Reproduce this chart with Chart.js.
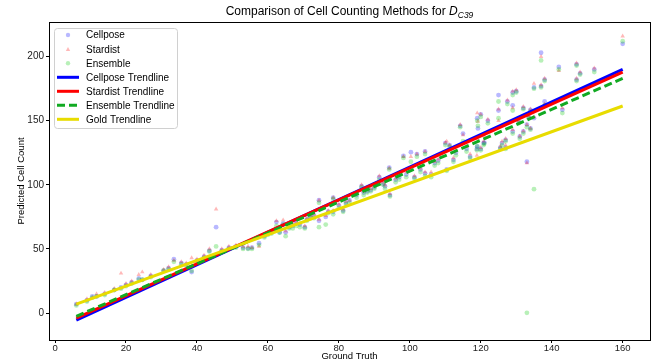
<!DOCTYPE html>
<html>
<head>
<meta charset="utf-8">
<script src="https://cdn.jsdelivr.net/npm/chart.js@4.4.1/dist/chart.umd.min.js"></script>
<style>
html,body{margin:0;padding:0;background:#fff;}
#wrap{width:655px;height:360px;position:relative;}
</style>
</head>
<body>
<div id="wrap"><canvas id="c" width="655" height="360"></canvas></div>
<script>
// ---- data ----
const groundTruth = [6,9,10.5,11.7,14,16.7,18.6,20,21.6,23.6,24.6,27,30.6,32,33.5,35.6,37,38.5,40,42,
 43.5,45.4,47,49,51,53,54.4,55.5,57.5,59,60,61,62.4,63.3,64.3,65,66,67,68,69,
 70.4,71,72,73,74.4,74.4,76.3,77,78.4,78.4,80,81.2,82,83,85,86.4,87,88,89,90,
 91.4,92.5,93,94.2,94.4,96,97,98.2,99,100.3,101.3,102,103,104.3,104.3,106,107,108,110,110.4,
 111.2,112.3,113,114.2,115,116,117,118.9,119,119.2,119,120,120,120.8,121,122,125,125,125.5,126,
 127,127.5,127,129,129,129,130,130.7,131,132,132,133,133,133.5,134,134,135,135,137,137,
 138,138,142,143,147,147,148,152,160];
const cellposeCounts = [7,10,13,13,15,18,20,22,24,27,26,29,33,35,42,39,38,32,41,44,
 48.7,67,49,51,52,51,50.5,51,54.5,60,62,63,71,63,70,63,67,68,70,69,
 67,73,75,76,88,72,75,79,90,79,84,80,86,88,92,99,94,95,96,98,
 106,101,99,113.5,92,104,106,122.6,108,125.5,106,124,112,126,109,108,117,119,132.6,112,
 131,119.5,125,146,140,128,122,128,152,144,130,155,128,132.6,133,150,170,158,129,132.6,
 135,165,129,172,162,141.6,173,149.5,137.7,160,141.6,118,147,153,158.5,144,152,176,203,177,
 182,165,192,158.5,194,182,187,190,210];
const stardistCounts = [7,11,12,15,16,19,31,23,25,30,32,30,34,36,41,40,39,43,42,45,
 50,81,50,52,53,52,52,51,52,61,63,64,72,65,72.6,64,68,70,71,70,
 68,74,76,77,88,73,76,80,90,80,85,81,87,88,93,100,95,96,97,99,
 107,102,100,113,93,105,108,122,110,122,107,124,113,126,110,110,118,120,133,134,
 131,121,127,147,139,130,124,123,156,149.5,136,155,129,134,138,151,159,150,130,134,
 136,166,131,173,160,143,174,150,138,161,142,117,147,154,159,144,153,179,200,178,
 183,163,189,160,195,183,188,191,216];
const ensembleCounts = [6,9,12,13,14,18,19,21,23,26,26,28,33,34,40,38,37,33,40,43,
 48,52,48,50,51,50,50,50,53,59,61,62,68,62.7,69,60,66,66,68,67,
 66,72,74,74,86,67,69,78,89,77,82,79,85,86,90,98,92,94,95,97,
 104,100,97,112,91,102,104,121,106,118,105,122,110,124,107,106,115,117,131,111,
 130,118,123,145,134,126,121,127,150,146,130,153,127,131,132,148,165,152,128,131,
 134,163,128,170,158,140,172,148,136,159,140,0.2,145,152,157,143,96.6,175,197,176,
 181,162,190,156,193,181,186,188,212];
// trendline end points [x at start, x at end] and fitted y values
const trendX = [6, 160];
const cellposeTrend = [-5.5, 190];
const stardistTrend = [-4, 188];
const ensembleTrend = [-2.5, 183];
const goldTrend = [7, 161.5];
const xTicks = [0,20,40,60,80,100,120,140,160];
const yTicks = [0,50,100,150,200];
const seriesNames = ['Cellpose','Stardist','Ensemble','Cellpose Trendline','Stardist Trendline','Ensemble Trendline','Gold Trendline'];

const toPts = (ys) => groundTruth.map((g,i)=>({x:g,y:ys[i]}));
const toLine = (ys) => trendX.map((g,i)=>({x:g,y:ys[i]}));

const FONT = '"Liberation Sans", Arial, sans-serif';
const C_BLUE_PT = 'rgba(0,0,255,0.28)';
const C_RED_PT = 'rgba(255,0,0,0.28)';
const C_GREEN_PT = 'rgba(0,200,0,0.28)';
const C_BLUE = '#0000ff', C_RED = '#ff0000', C_GREEN = '#11aa22', C_GOLD = '#e8dc00';

const datasets = [
  {type:'scatter', label:seriesNames[0], data:toPts(cellposeCounts), backgroundColor:C_BLUE_PT, borderWidth:0, pointRadius:2.4, pointStyle:'circle', order:6},
  {type:'scatter', label:seriesNames[1], data:toPts(stardistCounts), backgroundColor:C_RED_PT, borderWidth:0, pointRadius:2.6, pointStyle:'triangle', order:5},
  {type:'scatter', label:seriesNames[2], data:toPts(ensembleCounts), backgroundColor:C_GREEN_PT, borderWidth:0, pointRadius:2.4, pointStyle:'circle', order:4},
  {type:'line', label:seriesNames[3], data:toLine(cellposeTrend), borderColor:C_BLUE, borderWidth:3, pointRadius:0, fill:false, order:3},
  {type:'line', label:seriesNames[4], data:toLine(stardistTrend), borderColor:C_RED, borderWidth:3, pointRadius:0, fill:false, order:2},
  {type:'line', label:seriesNames[5], data:toLine(ensembleTrend), borderColor:C_GREEN, borderWidth:3, borderDash:[8,4], pointRadius:0, fill:false, order:1},
  {type:'line', label:seriesNames[6], data:toLine(goldTrend), borderColor:C_GOLD, borderWidth:3, pointRadius:0, fill:false, order:0}
];

const decor = {
  id:'decor',
  afterDraw(chart){
    const ctx = chart.ctx, a = chart.chartArea;
    ctx.save();
    // frame
    ctx.strokeStyle = '#000'; ctx.lineWidth = 1;
    ctx.strokeRect(Math.round(a.left)+0.5, Math.round(a.top)+0.5, Math.round(a.right-a.left), Math.round(a.bottom-a.top));
    // title
    ctx.fillStyle = '#000';
    ctx.textBaseline = 'alphabetic';
    const t1 = 'Comparison of Cell Counting Methods for ';
    ctx.font = '12px ' + FONT;
    const w1 = ctx.measureText(t1).width;
    ctx.font = 'italic 12px ' + FONT;
    const wD = ctx.measureText('D').width;
    ctx.font = 'italic 8.5px ' + FONT;
    const wS = ctx.measureText('C39').width;
    const total = w1 + wD + wS;
    let x0 = (a.left + a.right)/2 - total/2;
    const by = 15;
    ctx.textAlign = 'left';
    ctx.font = '12px ' + FONT; ctx.fillText(t1, x0, by);
    ctx.font = 'italic 12px ' + FONT; ctx.fillText('D', x0 + w1, by);
    ctx.font = 'italic 8.5px ' + FONT; ctx.fillText('C39', x0 + w1 + wD, by + 2.5);
    // axis titles
    ctx.font = '9.5px ' + FONT; ctx.fillStyle = '#000';
    ctx.textAlign = 'center';
    ctx.fillText('Ground Truth', (a.left + a.right)/2, 358.5);
    ctx.save();
    ctx.translate(21, (a.top + a.bottom)/2);
    ctx.rotate(-Math.PI/2);
    ctx.textBaseline = 'middle';
    ctx.fillText('Predicted Cell Count', 0, 0);
    ctx.restore();
    // legend
    const lx = 54, ly = 28, lw = 123, lh = 100;
    ctx.beginPath();
    ctx.roundRect(lx+0.5, ly+0.5, lw, lh, 3);
    ctx.fillStyle = 'rgba(255,255,255,0.85)'; ctx.fill();
    ctx.strokeStyle = '#d0d0d0'; ctx.lineWidth = 1; ctx.stroke();
    const rows = [35, 49.3, 63.3, 77.3, 91.3, 105.3, 119.3];
    ctx.textAlign = 'left'; ctx.textBaseline = 'middle'; ctx.font = '10px ' + FONT; 
    datasets.forEach((d, i) => {
      const y = rows[i];
      if (d.type === 'scatter') {
        ctx.fillStyle = d.backgroundColor;
        ctx.beginPath();
        if (d.pointStyle === 'triangle') {
          ctx.moveTo(68, y-2.4); ctx.lineTo(70.2, y+1.6); ctx.lineTo(65.8, y+1.6); ctx.closePath();
        } else {
          ctx.arc(68, y, 2.2, 0, Math.PI*2);
        }
        ctx.fill();
      } else {
        ctx.strokeStyle = d.borderColor; ctx.lineWidth = 3;
        ctx.setLineDash(d.borderDash || []);
        ctx.beginPath(); ctx.moveTo(57, y); ctx.lineTo(79, y); ctx.stroke();
        ctx.setLineDash([]);
      }
      ctx.fillStyle = '#000';
      ctx.fillText(d.label, 86, y + 0.5);
    });
    ctx.restore();
  }
};

new Chart(document.getElementById('c'), {
  data: { datasets },
  plugins: [decor],
  options: {
    responsive: false,
    animation: false,
    devicePixelRatio: 1,
    layout: { padding: { left: 0, top: 22, right: 5, bottom: 0 } },
    plugins: { legend: { display: false }, tooltip: { enabled: false }, title: { display: false } },
    scales: {
      x: {
        type: 'linear', min: -1.7, max: 167.7,
        afterBuildTicks: (s) => { s.ticks = xTicks.map(v => ({value: v})); },
        afterFit: (s) => { s.height = 20; },
        grid: { display: true, drawOnChartArea: false, drawTicks: true, tickLength: 3, color: '#000', tickColor: '#000' },
        border: { display: true, color: '#000', width: 1 },
        ticks: { color: '#222', font: { size: 9.5, family: FONT }, padding: 0, maxRotation: 0, autoSkip: false }
      },
      y: {
        type: 'linear', min: -21, max: 227,
        afterBuildTicks: (s) => { s.ticks = yTicks.map(v => ({value: v})); },
        afterFit: (s) => { s.width = 49; },
        grid: { display: true, drawOnChartArea: false, drawTicks: true, tickLength: 3, color: '#000', tickColor: '#000' },
        border: { display: true, color: '#000', width: 1 },
        ticks: { color: '#222', font: { size: 10, family: FONT }, padding: 2 }
      }
    }
  }
});
</script>
</body>
</html>
